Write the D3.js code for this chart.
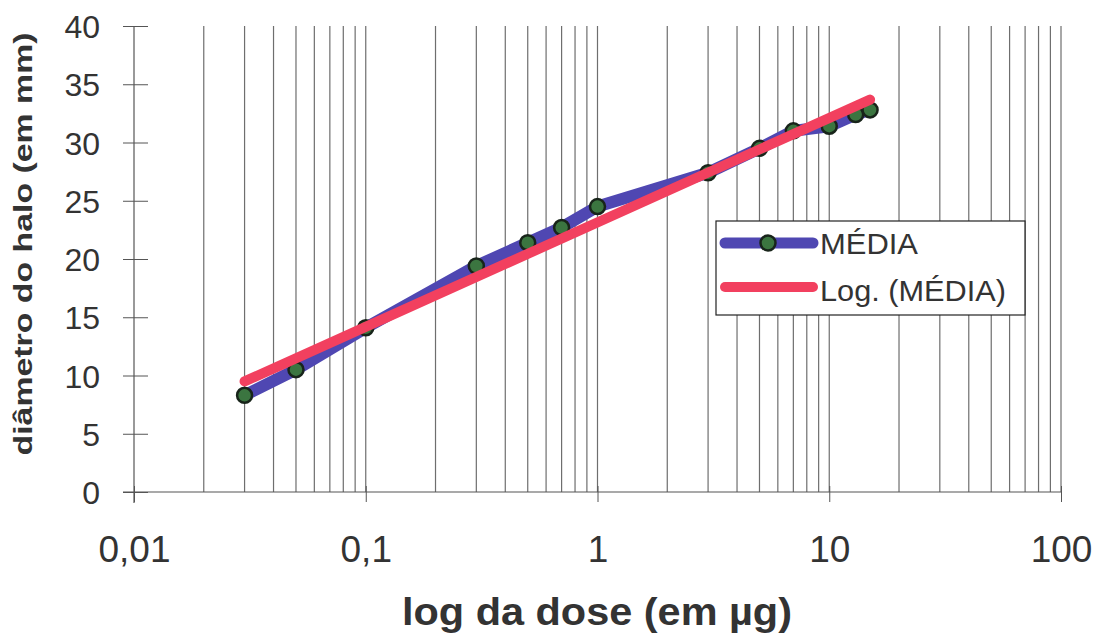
<!DOCTYPE html>
<html>
<head>
<meta charset="utf-8">
<script src="https://cdn.jsdelivr.net/npm/d3@7"></script>
<style>
  body { margin: 0; background: #fff; }
  text { font-family: "Liberation Sans", Arial, sans-serif; fill: #333; }
</style>
</head>
<body>
<div id="vis"></div>
<script>
// dose (µg) and mean halo diameter (mm)
const doses = [0.03, 0.05, 0.1, 0.3, 0.5, 0.7, 1, 3, 5, 7, 10, 13, 15]
const media = [8.3, 10.5, 14.1, 19.4, 21.4, 22.7, 24.5, 27.4, 29.5, 31.0, 31.4, 32.4, 32.8]
const xTickValues = [0.01, 0.1, 1, 10, 100]
const yTickValues = [0, 5, 10, 15, 20, 25, 30, 35, 40]
const seriesNames = ['MÉDIA', 'Log. (MÉDIA)']

const W = 1105, H = 639
const dataset = doses.map((d, i) => ({ dose: d, value: media[i] }))

const ptBR = d3.formatLocale({ decimal: ',', thousands: '.', grouping: [3], currency: ['R$', ''] })
const fmt = d => ptBR.format('~g')(d)

const svg = d3.select('#vis').append('svg')
  .attr('width', W).attr('height', H)

const x = d3.scaleLog().domain([0.01, 100]).range([134, 1061])
const y = d3.scaleLinear().domain([0, 40]).range([492, 26])

// vertical gridlines on every log step
const gridVals = x.ticks().filter(v => v > 0.01 + 1e-9)
svg.append('g').selectAll('line')
  .data(gridVals).enter().append('line')
  .attr('x1', d => x(d)).attr('x2', d => x(d))
  .attr('y1', y(40)).attr('y2', y(0))
  .attr('stroke', '#6e6e6e').attr('stroke-width', 1.2)

// x axis
const xAxis = svg.append('g').attr('transform', `translate(0,${y(0)})`)
  .call(d3.axisBottom(x).tickValues(xTickValues).tickFormat(fmt).tickSize(10).tickPadding(34))
xAxis.select('.domain').remove()
xAxis.selectAll('.tick line').attr('stroke', '#555').attr('y1', -6)
xAxis.selectAll('.tick text')
  .style('font-size', '37px').attr('fill', '#333')
xAxis.append('line').attr('x1', 123).attr('x2', x(100))
  .attr('stroke', '#555').attr('stroke-width', 1.2)

// y axis
const yAxis = svg.append('g').attr('transform', `translate(${x(0.01)},0)`)
  .call(d3.axisLeft(y).tickValues(yTickValues).tickSize(11).tickPadding(23))
yAxis.select('.domain').remove()
yAxis.selectAll('.tick line').attr('stroke', '#555').attr('x2', 14).attr('x1', -11)
yAxis.selectAll('.tick text').style('font-size', '32px').attr('fill', '#333').attr('dy', '0.36em')
yAxis.append('line').attr('y1', y(40)).attr('y2', 503)
  .attr('stroke', '#555').attr('stroke-width', 1.2)

// logarithmic trend line (least squares on ln(dose))
const lx = dataset.map(d => Math.log(d.dose))
const mx = d3.mean(lx), my = d3.mean(media)
const slope = d3.sum(lx, (v, i) => (v - mx) * (media[i] - my)) / d3.sum(lx, v => (v - mx) ** 2)
const icpt = my - slope * mx
const trend = d3.extent(doses).map(d => ({ dose: d, value: icpt + slope * Math.log(d) }))

const line = d3.line().x(d => x(d.dose)).y(d => y(d.value))

svg.append('path').datum(dataset)
  .attr('d', line).attr('fill', 'none')
  .attr('stroke', '#4f47b2').attr('stroke-width', 12)
  .attr('stroke-linecap', 'round').attr('stroke-linejoin', 'round')

svg.append('g').selectAll('circle')
  .data(dataset).enter().append('circle')
  .attr('cx', d => x(d.dose)).attr('cy', d => y(d.value))
  .attr('r', 7.5).attr('fill', '#3b7540').attr('stroke', '#18241a').attr('stroke-width', 2.5)

svg.append('path').datum(trend)
  .attr('d', line).attr('fill', 'none')
  .attr('stroke', '#f2405f').attr('stroke-width', 10)
  .attr('stroke-linecap', 'round')

// legend
const lg = svg.append('g').attr('transform', 'translate(716,221)')
lg.append('rect').attr('width', 309).attr('height', 94)
  .attr('fill', '#fff').attr('stroke', '#222').attr('stroke-width', 1.2)
lg.append('line').attr('x1', 9).attr('x2', 97).attr('y1', 22).attr('y2', 22)
  .attr('stroke', '#4f47b2').attr('stroke-width', 11).attr('stroke-linecap', 'round')
lg.append('circle').attr('cx', 52).attr('cy', 22).attr('r', 7.5)
  .attr('fill', '#3b7540').attr('stroke', '#18241a').attr('stroke-width', 2.5)
lg.append('line').attr('x1', 9).attr('x2', 97).attr('y1', 66).attr('y2', 66)
  .attr('stroke', '#f2405f').attr('stroke-width', 10).attr('stroke-linecap', 'round')
lg.selectAll('text.lab').data(seriesNames).enter().append('text')
  .attr('class', 'lab')
  .attr('x', 104).attr('y', (d, i) => 33 + i * 47)
  .attr('textLength', (d, i) => i ? 186 : 98).attr('lengthAdjust', 'spacingAndGlyphs')
  .style('font-size', '29px').attr('fill', '#222')
  .text(d => d)

// axis titles
svg.append('text')
  .attr('x', 597).attr('y', 625)
  .attr('text-anchor', 'middle')
  .style('font-size', '38px').style('font-weight', 'bold')
  .attr('textLength', 390).attr('lengthAdjust', 'spacingAndGlyphs')
  .text('log da dose (em µg)')

svg.append('text')
  .attr('transform', 'translate(32,244) rotate(-90)')
  .attr('text-anchor', 'middle')
  .style('font-size', '25px').style('font-weight', 'bold')
  .attr('textLength', 423).attr('lengthAdjust', 'spacingAndGlyphs')
  .text('diâmetro do halo (em mm)')
</script>
</body>
</html>
